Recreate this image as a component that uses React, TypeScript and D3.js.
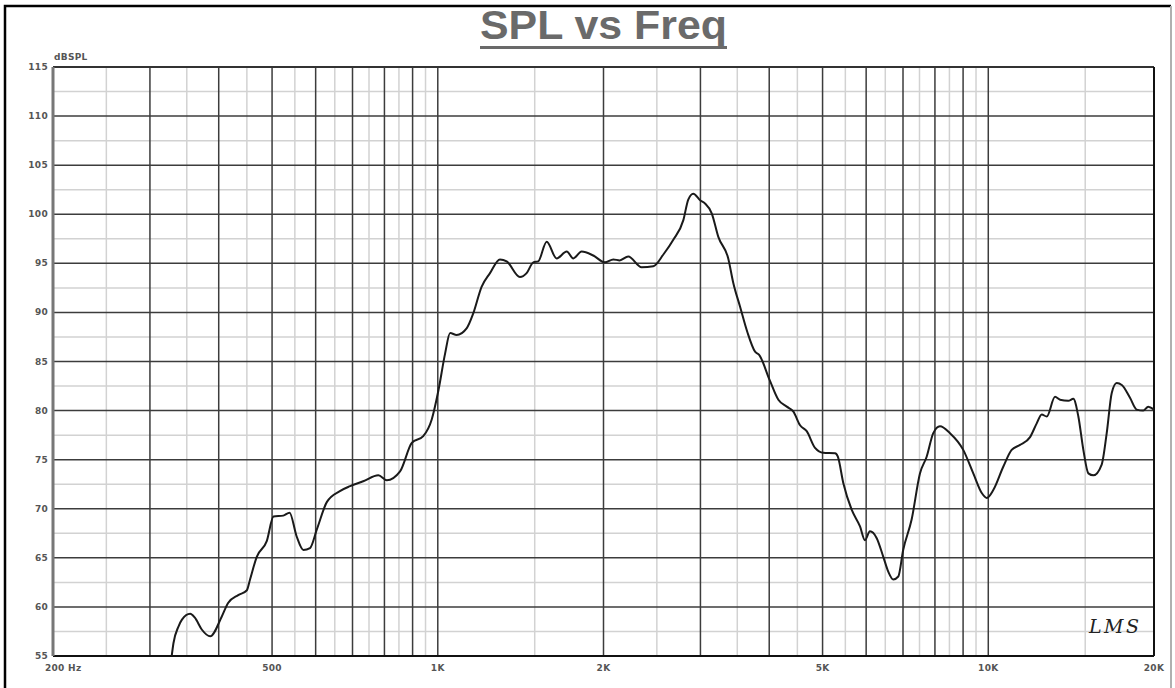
import { useEffect, useRef } from 'react';
import * as d3 from 'd3';

const freqHz = [
  328.6, 331, 338, 343, 355, 362, 372.6, 386, 405, 416, 434, 450, 456, 469, 489, 503, 524, 538, 554, 570,
  586, 603, 629, 664, 693, 732, 780, 808, 854, 897, 941, 975, 1003, 1031, 1053, 1082, 1129, 1160, 1201, 1244,
  1297, 1334, 1410, 1450, 1491, 1522, 1577, 1644, 1715, 1763, 1825, 1916, 2012, 2084, 2140, 2218, 2346, 2463,
  2569, 2678, 2793, 2851, 2911, 3000, 3058, 3145, 3233, 3370, 3442, 3540, 3650, 3770, 3832, 4008, 4156, 4305,
  4426, 4551, 4679, 4845, 5015, 5268, 5330, 5454, 5647, 5848, 5970, 6097, 6271, 6446, 6581, 6720, 6863, 7005,
  7257, 7514, 7728, 7945, 8170, 8520, 9006, 9392, 9731, 9940, 10211, 10651, 11027, 11420, 11909, 12246, 12505,
  12770, 13220, 13500, 13975, 14270, 14575, 14883, 15199, 15520, 16070, 16411, 16760, 17112, 17480, 18090,
  18600, 19120, 19525, 20000,
];
const splDb = [
  55.0, 56.3, 58.0, 58.7, 59.3, 58.9, 57.7, 57.0, 59.0, 60.4, 61.2, 61.7, 62.8, 65.1, 66.7, 69.2, 69.3, 69.6, 67.2, 65.8,
  66.0, 67.9, 70.7, 71.8, 72.3, 72.8, 73.4, 72.9, 73.8, 76.7, 77.4, 79.1, 82.1, 85.8, 87.9, 87.7, 88.4, 89.9, 92.6, 94.0,
  95.4, 95.2, 93.6, 94.0, 95.1, 95.2, 97.2, 95.5, 96.2, 95.5, 96.2, 95.8, 95.1, 95.4, 95.3, 95.7, 94.6, 94.7,
  95.9, 97.4, 99.4, 101.5, 102.1, 101.4, 101.1, 100.1, 97.7, 95.5, 93.0, 90.6, 88.0, 86.0, 85.7, 83.1, 81.1, 80.4,
  79.9, 78.5, 77.9, 76.2, 75.7, 75.65, 75.3, 72.6, 69.9, 68.2, 66.8, 67.7, 67.0, 65.1, 63.6, 62.8, 63.1, 65.8,
  68.9, 73.6, 75.3, 77.7, 78.4, 77.7, 76.0, 73.6, 71.6, 71.1, 71.9, 74.3, 76.0, 76.5, 77.3, 78.7, 79.6,
  79.4, 81.4, 81.1, 81.0, 81.2, 79.4, 76.0, 73.6, 73.4, 74.5, 77.7, 81.8, 82.8, 82.6, 81.3,
  80.1, 80.0, 80.4, 80.1,
];

const yTicks = [55, 60, 65, 70, 75, 80, 85, 90, 95, 100, 105, 110, 115];
const xTicks = [200, 500, 1000, 2000, 5000, 10000, 20000];
const xTickLabels = ['200 Hz', '500', '1K', '2K', '5K', '10K', '20K'];

const App = () => {
  const ref = useRef<SVGSVGElement>(null);

  const drawChart = () => {
    const width = 1175;
    const height = 688;
    const left = 53, right = 1154, top = 67, bottom = 656;

    const svg = d3.select(ref.current);
    svg.selectAll('*').remove();
    svg.attr('width', width).attr('height', height);

    svg.append('rect').attr('width', width).attr('height', height).attr('fill', '#fff');

    // outer frame
    svg.append('path').attr('d', `M5,${height + 2} V6 H1171`)
      .attr('fill', 'none').attr('stroke', '#000').attr('stroke-width', 2.5);
    svg.append('line').attr('x1', 1171).attr('x2', 1171).attr('y1', 6).attr('y2', height)
      .attr('stroke', '#b0b0b0').attr('stroke-width', 2);

    const xScale = d3.scaleLog().domain([200, 20000]).range([left, right]);
    const yScale = d3.scaleLinear().domain([55, 115]).range([bottom, top]);

    // vertical grid: dark on whole multiples, light on halves
    const major: number[] = [];
    const minor: number[] = [];
    [100, 1000, 10000].forEach(dec => {
      for (let m = 1; m <= 10; m++) {
        const f = m * dec;
        if (f > 200 && f < 20000 && !(dec === 100 && m === 10) && !(dec === 1000 && m === 10)) major.push(f);
        const h = (m + 0.5) * dec;
        if (m < 10 && h > 200 && h < 20000) minor.push(h);
      }
    });

    const grid = svg.append('g');
    grid.selectAll('.vminor').data(minor).enter().append('line')
      .attr('x1', d => xScale(d)).attr('x2', d => xScale(d))
      .attr('y1', top).attr('y2', bottom)
      .attr('stroke', '#d2d2d2').attr('stroke-width', 1.5);

    const hMinor = d3.range(57.5, 115, 5);
    grid.selectAll('.hminor').data(hMinor).enter().append('line')
      .attr('x1', left).attr('x2', right)
      .attr('y1', d => yScale(d)).attr('y2', d => yScale(d))
      .attr('stroke', '#d2d2d2').attr('stroke-width', 1.5);

    grid.selectAll('.vmajor').data(major).enter().append('line')
      .attr('x1', d => xScale(d)).attr('x2', d => xScale(d))
      .attr('y1', top).attr('y2', bottom)
      .attr('stroke', '#3c3c3c').attr('stroke-width', 1.5);

    grid.selectAll('.hmajor').data(yTicks.slice(1, -1)).enter().append('line')
      .attr('x1', left).attr('x2', right)
      .attr('y1', d => yScale(d)).attr('y2', d => yScale(d))
      .attr('stroke', '#3c3c3c').attr('stroke-width', 1.5);

    // plot border
    svg.append('line').attr('x1', left).attr('x2', right).attr('y1', top).attr('y2', top)
      .attr('stroke', '#333').attr('stroke-width', 2);
    svg.append('line').attr('x1', left).attr('x2', right).attr('y1', bottom).attr('y2', bottom)
      .attr('stroke', '#111').attr('stroke-width', 2);
    svg.append('line').attr('x1', right).attr('x2', right).attr('y1', top).attr('y2', bottom)
      .attr('stroke', '#111').attr('stroke-width', 2);
    svg.append('line').attr('x1', left).attr('x2', left).attr('y1', top).attr('y2', bottom)
      .attr('stroke', '#777').attr('stroke-width', 3);

    // response curve
    svg.append('clipPath').attr('id', 'plotclip')
      .append('rect').attr('x', left).attr('y', top).attr('width', right - left).attr('height', bottom - top);

    const pts = freqHz.map((f, i) => [f, splDb[i]] as [number, number]);
    const line = d3.line<[number, number]>()
      .x(d => xScale(d[0]))
      .y(d => yScale(d[1]))
      .curve(d3.curveMonotoneX);

    svg.append('path')
      .datum(pts)
      .attr('clip-path', 'url(#plotclip)')
      .attr('fill', 'none')
      .attr('stroke', '#1a1a1a')
      .attr('stroke-width', 2)
      .attr('stroke-linejoin', 'round')
      .attr('d', line);

    // axis labels
    const lab = { 'font-family': 'DejaVu Sans', 'font-size': 9, 'font-weight': 'bold', fill: '#555' };
    const yl = svg.append('g');
    yl.selectAll('text').data(yTicks).enter().append('text')
      .attr('x', 48).attr('y', d => yScale(d) + 3)
      .attr('text-anchor', 'end')
      .attr('letter-spacing', 0.3)
      .text(d => String(d))
      .each(function () { Object.entries(lab).forEach(([k, v]) => d3.select(this).attr(k, v)); });

    const xl = svg.append('g');
    xl.selectAll('text').data(xTicks).enter().append('text')
      .attr('x', (d, i) => (i === 0 ? 45 : xScale(d)))
      .attr('y', 671)
      .attr('text-anchor', (d, i) => (i === 0 ? 'start' : 'middle'))
      .attr('letter-spacing', 0.3)
      .text((d, i) => xTickLabels[i])
      .each(function () { Object.entries(lab).forEach(([k, v]) => d3.select(this).attr(k, v)); });

    svg.append('text').attr('x', 54).attr('y', 60).text('dBSPL')
      .attr('letter-spacing', 0.3)
      .each(function () { Object.entries(lab).forEach(([k, v]) => d3.select(this).attr(k, v)); });

    // title
    svg.append('text')
      .attr('x', 480).attr('y', 39)
      .attr('font-family', 'Liberation Sans, Arial, sans-serif')
      .attr('font-weight', 'bold')
      .attr('font-size', 40)
      .attr('fill', '#6a6a6a')
      .attr('textLength', 247)
      .attr('lengthAdjust', 'spacingAndGlyphs')
      .text('SPL vs Freq');
    svg.append('rect').attr('x', 480).attr('y', 46).attr('width', 247).attr('height', 3)
      .attr('fill', '#6a6a6a');

    // LMS mark
    svg.append('text')
      .attr('x', 1089).attr('y', 633)
      .attr('font-family', 'DejaVu Serif')
      .attr('font-style', 'italic')
      .attr('font-size', 19)
      .attr('fill', '#222')
      .attr('textLength', 50)
      .text('LMS');
  };

  useEffect(() => {
    drawChart();
  }, []);

  return (
    <div style={{ position: 'absolute', left: 0, top: 0 }}>
      <svg ref={ref}></svg>
    </div>
  );
};

export default App;
